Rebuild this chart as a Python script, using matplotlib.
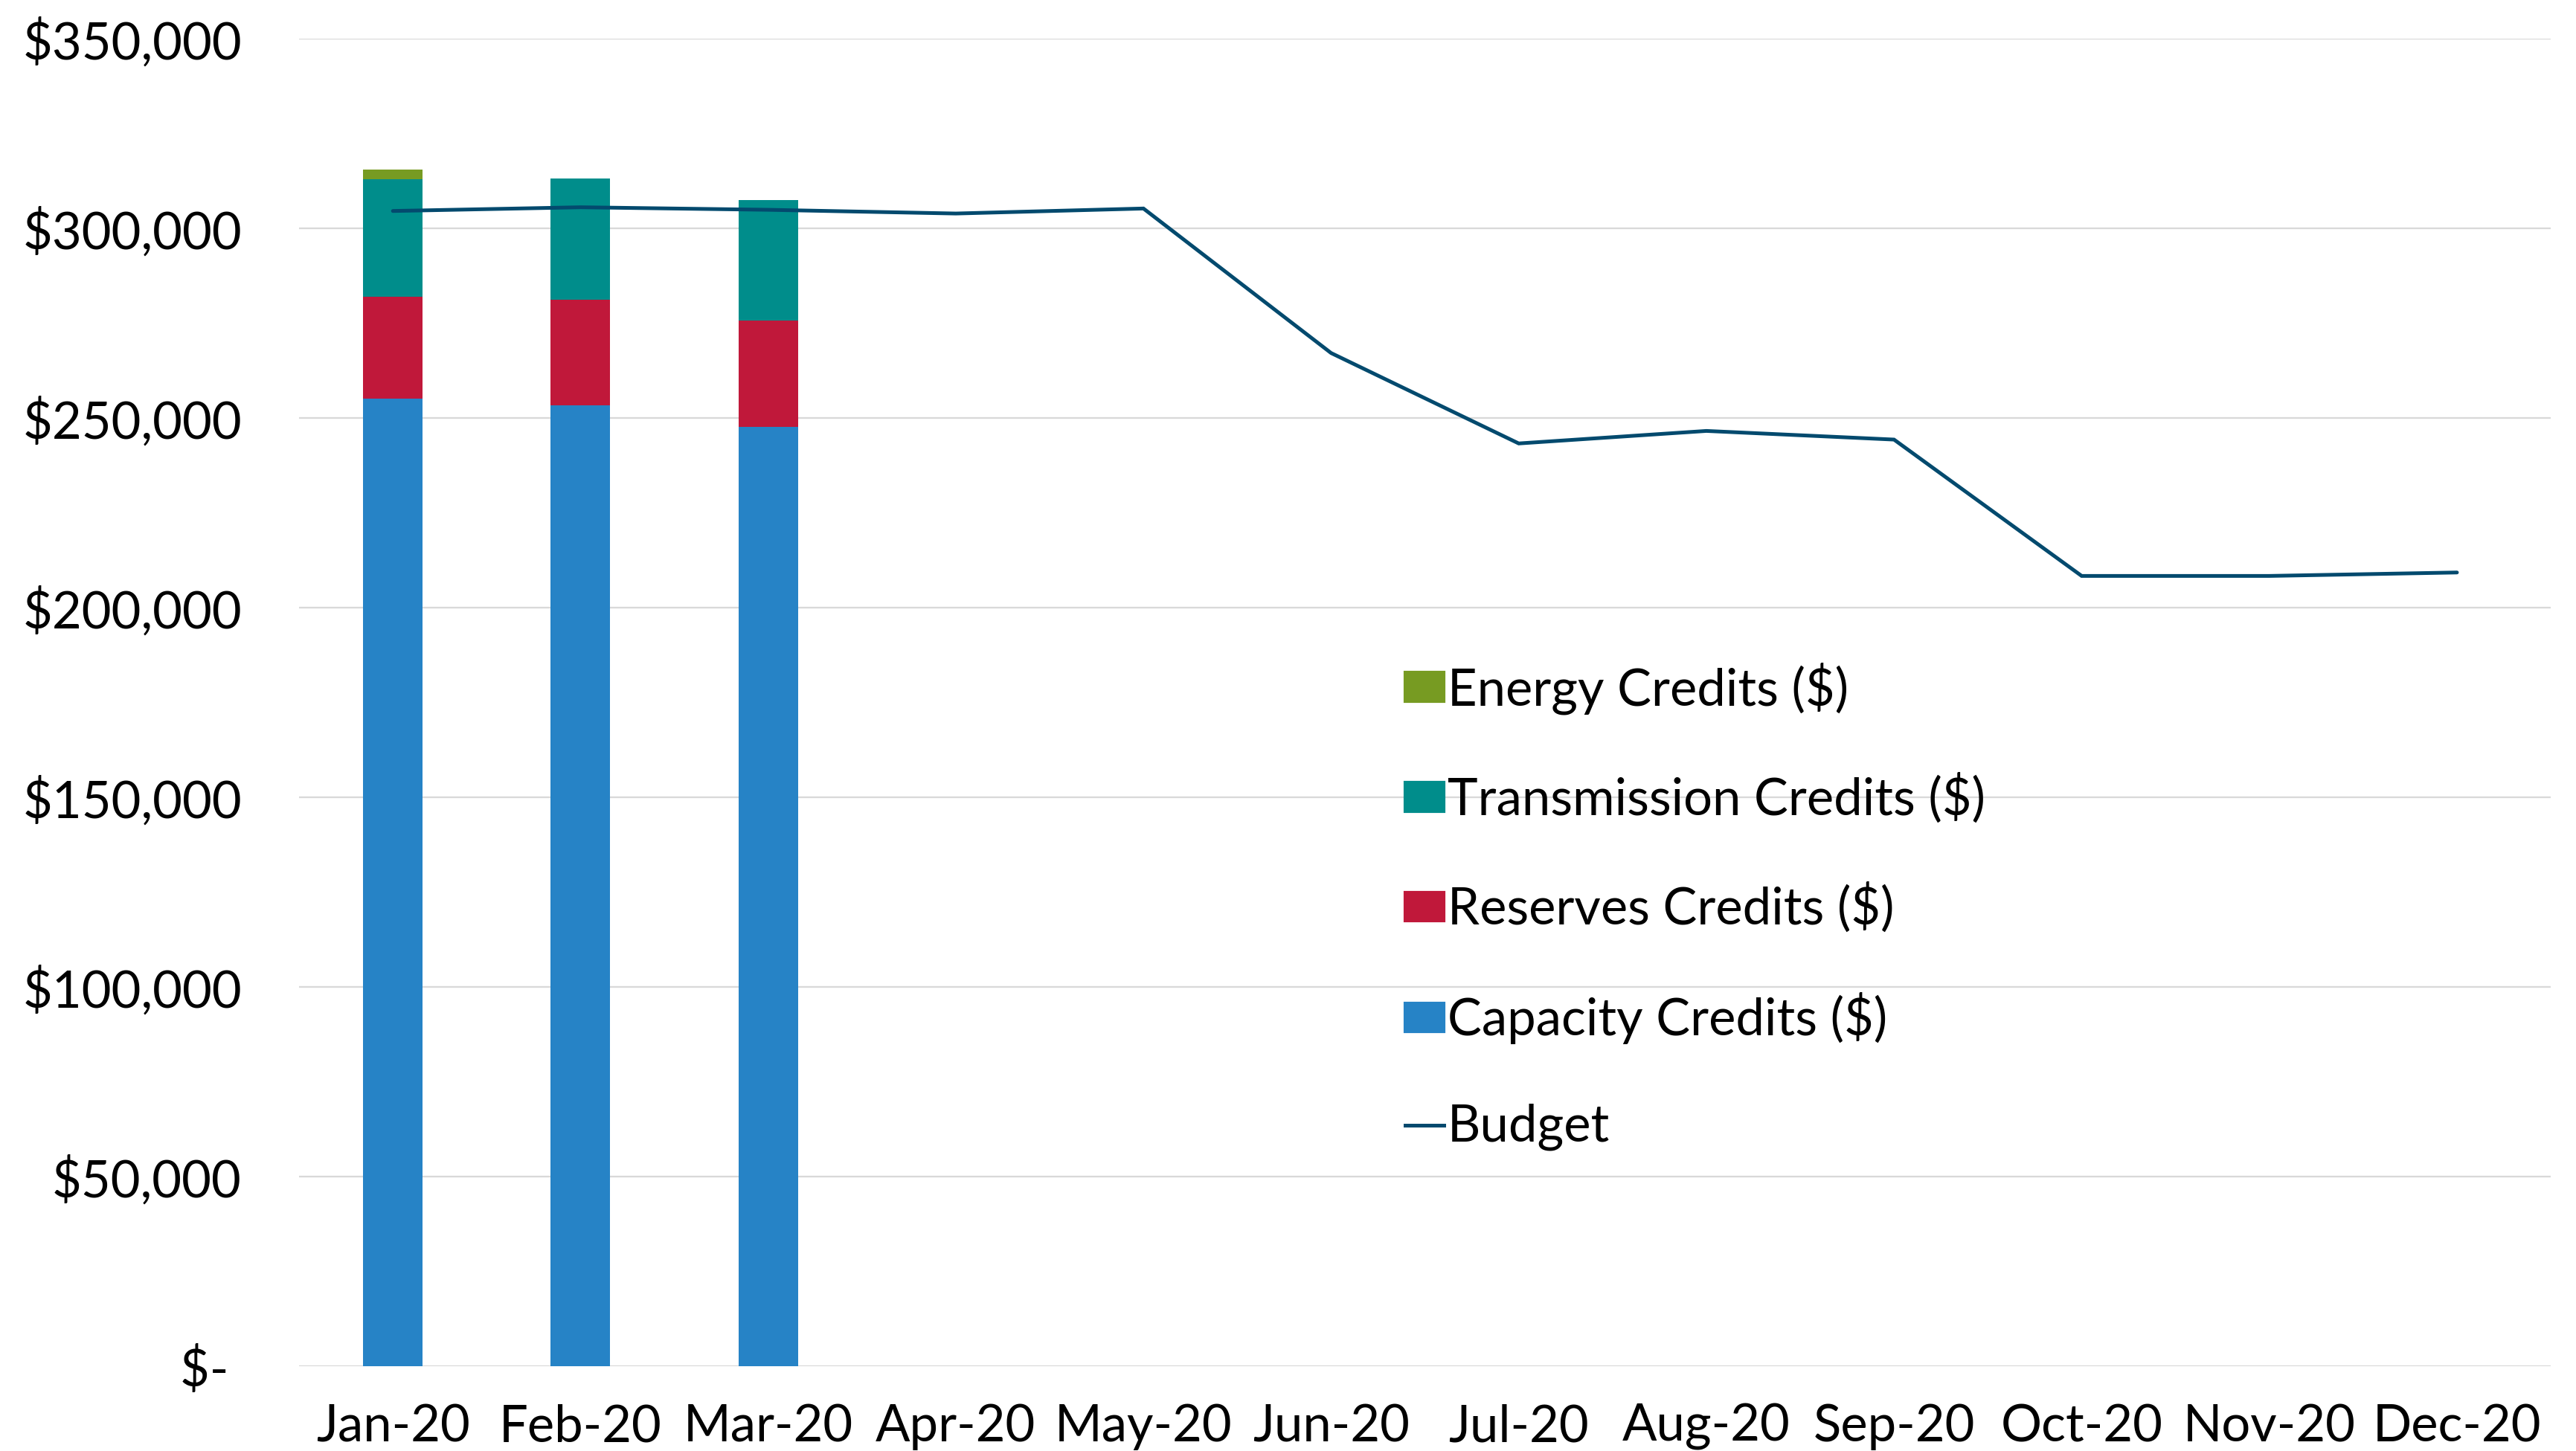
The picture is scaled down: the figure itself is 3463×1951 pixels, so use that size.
import matplotlib
matplotlib.use("Agg")
import numpy as np
import matplotlib.pyplot as plt
from matplotlib.patches import Patch
from matplotlib.lines import Line2D
from matplotlib.ticker import FuncFormatter

plt.rcParams['font.family'] = ['Lato', 'DejaVu Sans']

months = ['Jan-20', 'Feb-20', 'Mar-20', 'Apr-20', 'May-20', 'Jun-20',
          'Jul-20', 'Aug-20', 'Sep-20', 'Oct-20', 'Nov-20', 'Dec-20']

# credits only reported for the first three months
capacity = [255100, 253270, 247720]
reserves = [26940, 27980, 27970]
transmission = [30840, 31830, 31840]
energy = [2550, 0, 0]

budget = [304590, 305570, 304900, 303920, 305240, 267140,
          243300, 246600, 244320, 208370, 208370, 209280]

c_cap = '#2683C6'
c_res = '#C0183A'
c_trn = '#008D8B'
c_eng = '#779B22'
c_bud = '#034A6E'

fig = plt.figure(figsize=(3463 / 300, 1951 / 300), dpi=300)
ax = fig.add_axes([0.1161, 0.0584, 0.8741, 0.9149])

x = np.arange(len(months))
xb = x[:len(capacity)]
w = 0.317

cap = np.array(capacity)
res = np.array(reserves)
trn = np.array(transmission)
eng = np.array(energy)

ax.bar(xb, cap, w, color=c_cap, zorder=2)
ax.bar(xb, res, w, bottom=cap, color=c_res, zorder=2)
ax.bar(xb, trn, w, bottom=cap + res, color=c_trn, zorder=2)
ax.bar(xb, eng, w, bottom=cap + res + trn, color=c_eng, zorder=2)

ax.plot(x, budget, color=c_bud, lw=1.2, solid_capstyle='round',
        solid_joinstyle='miter', zorder=3)

ax.set_xlim(-0.5, len(months) - 0.5)
ax.set_ylim(0, 350000)
ax.set_yticks(np.arange(0, 350001, 50000))


def money(v, pos):
    if v == 0:
        return '$- '
    return '${:,.0f}'.format(v)


ax.yaxis.set_major_formatter(FuncFormatter(money))
ax.set_xticks(x)
ax.set_xticklabels(months)

ax.grid(axis='y', color='#D9D9D9', lw=0.55, zorder=0)
ax.set_axisbelow(True)
for s in ax.spines.values():
    s.set_visible(False)
ax.tick_params(axis='both', length=0, labelsize=16.5, colors='black')
ax.tick_params(axis='y', pad=18.5)
ax.tick_params(axis='x', pad=12)

handles = [
    Patch(color=c_eng, label='Energy Credits ($)'),
    Patch(color=c_trn, label='Transmission Credits ($)'),
    Patch(color=c_res, label='Reserves Credits ($)'),
    Patch(color=c_cap, label='Capacity Credits ($)'),
    Line2D([], [], color=c_bud, lw=1.2, label='Budget'),
]
fig.legend(handles=handles, loc='upper left', bbox_to_anchor=(0.5455, 0.5438),
           frameon=False, fontsize=16.5, borderpad=0, borderaxespad=0,
           handlelength=0.75, handleheight=0.48, handletextpad=0.08,
           labelspacing=1.15)

fig.savefig('out.png', dpi=300)
